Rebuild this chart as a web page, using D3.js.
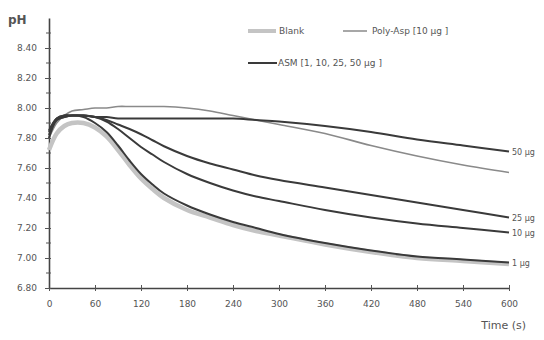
<!DOCTYPE html>
<html>
<head>
<meta charset="utf-8">
<script src="https://cdn.jsdelivr.net/npm/d3@7"></script>
<style>
  body { margin: 0; background: #fff; }
  text { font-family: "DejaVu Sans", Verdana, sans-serif; fill: #555; }
</style>
</head>
<body>
<div id="chart"></div>
<script>
// time points (s)
var times = [0, 10, 20, 30, 45, 60, 75, 90, 105, 120, 135, 150, 180, 210, 240, 270, 300, 360, 420, 480, 540, 600];

var blank   = [7.72, 7.83, 7.88, 7.90, 7.90, 7.87, 7.81, 7.72, 7.62, 7.53, 7.46, 7.40, 7.32, 7.27, 7.22, 7.18, 7.15, 7.09, 7.04, 7.00, 6.98, 6.96];
var polyAsp = [7.80, 7.90, 7.95, 7.98, 7.99, 8.00, 8.00, 8.01, 8.01, 8.01, 8.01, 8.01, 8.00, 7.98, 7.95, 7.92, 7.89, 7.83, 7.75, 7.68, 7.62, 7.57];
var asm1    = [7.80, 7.92, 7.94, 7.95, 7.94, 7.90, 7.84, 7.75, 7.65, 7.56, 7.49, 7.43, 7.35, 7.29, 7.24, 7.20, 7.16, 7.10, 7.05, 7.01, 6.99, 6.97];
var asm10   = [7.82, 7.92, 7.94, 7.95, 7.95, 7.94, 7.91, 7.86, 7.80, 7.74, 7.69, 7.64, 7.56, 7.50, 7.45, 7.41, 7.38, 7.32, 7.27, 7.23, 7.20, 7.17];
var asm25   = [7.84, 7.93, 7.95, 7.95, 7.95, 7.94, 7.92, 7.89, 7.86, 7.825, 7.785, 7.745, 7.68, 7.63, 7.59, 7.55, 7.52, 7.47, 7.42, 7.37, 7.32, 7.27];
var asm50   = [7.85, 7.93, 7.95, 7.95, 7.95, 7.94, 7.94, 7.93, 7.93, 7.93, 7.93, 7.93, 7.93, 7.93, 7.93, 7.92, 7.91, 7.88, 7.84, 7.79, 7.75, 7.71];

var xTicks = [0, 60, 120, 180, 240, 300, 360, 420, 480, 540, 600];
var yTicks = [6.80, 7.00, 7.20, 7.40, 7.60, 7.80, 8.00, 8.20, 8.40];
var endLabels = ["50 µg", "25 µg", "10 µg", "1 µg"];

function init() {
    var w = 544, h = 340;

    var svg = d3.select("#chart").append("svg")
        .attr("width", w)
        .attr("height", h);

    var x = d3.scaleLinear().domain([0, 600]).range([49, 509]);
    var y = d3.scaleLinear().domain([6.8, 8.6]).range([288, 18]);

    // axes
    var xAxis = d3.axisBottom(x).tickValues(xTicks).tickSizeInner(3).tickSizeOuter(0).tickPadding(10);
    var gx = svg.append("g").attr("transform", "translate(0," + y(6.8) + ")").call(xAxis);
    gx.selectAll(".tick line").attr("y1", -3).attr("y2", 3).attr("stroke", "#555");
    gx.select(".domain").attr("stroke", "#444").attr("stroke-width", 1.6);
    gx.selectAll("text").style("font-size", "9px").attr("fill", "#555");

    var yAxis = d3.axisLeft(y).tickValues(yTicks).tickFormat(d3.format(".2f"))
        .tickSizeInner(4).tickSizeOuter(0).tickPadding(8);
    var gy = svg.append("g").attr("transform", "translate(" + x(0) + ",0)").call(yAxis);
    gy.selectAll(".tick line").attr("x1", -4).attr("x2", 2).attr("stroke", "#555");
    gy.select(".domain").attr("stroke", "#444").attr("stroke-width", 1.6);
    gy.selectAll("text").style("font-size", "9px").attr("fill", "#555");

    // minor y ticks
    var minor = d3.range(6.9, 8.65, 0.2);
    svg.append("g").selectAll("line").data(minor).enter().append("line")
        .attr("x1", x(0) - 3).attr("x2", x(0) + 2)
        .attr("y1", function(d) { return y(d); })
        .attr("y2", function(d) { return y(d); })
        .attr("stroke", "#555");

    svg.append("text").attr("x", 8).attr("y", 24)
        .style("font-size", "12px").style("font-weight", "bold").attr("fill", "#444").text("pH");
    svg.append("text").attr("x", 526).attr("y", 329).attr("text-anchor", "end")
        .style("font-size", "11px").attr("fill", "#444").text("Time (s)");

    var line = d3.line()
        .x(function(d, i) { return x(times[i]); })
        .y(function(d) { return y(d); })
        .curve(d3.curveCatmullRom.alpha(0.5));

    var series = [
        { v: blank, c: "#c4c4c4", sw: 4.5 },
        { v: polyAsp, c: "#8a8a8a", sw: 1.6 },
        { v: asm1, c: "#3a3a3a", sw: 2 },
        { v: asm10, c: "#3a3a3a", sw: 2 },
        { v: asm25, c: "#3a3a3a", sw: 2 },
        { v: asm50, c: "#3a3a3a", sw: 2 }
    ];

    svg.append("g").selectAll("path").data(series).enter().append("path")
        .attr("d", function(d) { return line(d.v); })
        .attr("fill", "none")
        .attr("stroke", function(d) { return d.c; })
        .attr("stroke-width", function(d) { return d.sw; });

    // end labels
    var ends = [asm50, asm25, asm10, asm1];
    svg.append("g").selectAll("text").data(endLabels).enter().append("text")
        .attr("x", x(600) + 3)
        .attr("y", function(d, i) { return y(ends[i][ends[i].length - 1]) + 3; })
        .style("font-size", "8px").attr("fill", "#666")
        .text(function(d) { return d; });

    // legend
    var leg = svg.append("g");
    leg.append("line").attr("x1", 248).attr("x2", 276).attr("y1", 31).attr("y2", 31)
        .attr("stroke", "#c4c4c4").attr("stroke-width", 4);
    leg.append("text").attr("x", 279).attr("y", 34).style("font-size", "9px").text("Blank");
    leg.append("line").attr("x1", 343).attr("x2", 367).attr("y1", 31).attr("y2", 31)
        .attr("stroke", "#8a8a8a").attr("stroke-width", 1.5);
    leg.append("text").attr("x", 372).attr("y", 34).style("font-size", "9px").text("Poly-Asp [10 µg ]");
    leg.append("line").attr("x1", 248).attr("x2", 277).attr("y1", 63).attr("y2", 63)
        .attr("stroke", "#3a3a3a").attr("stroke-width", 2);
    leg.append("text").attr("x", 278).attr("y", 66).style("font-size", "9px").text("ASM [1, 10, 25, 50 µg ]");
}

window.onload = init;
</script>
</body>
</html>
